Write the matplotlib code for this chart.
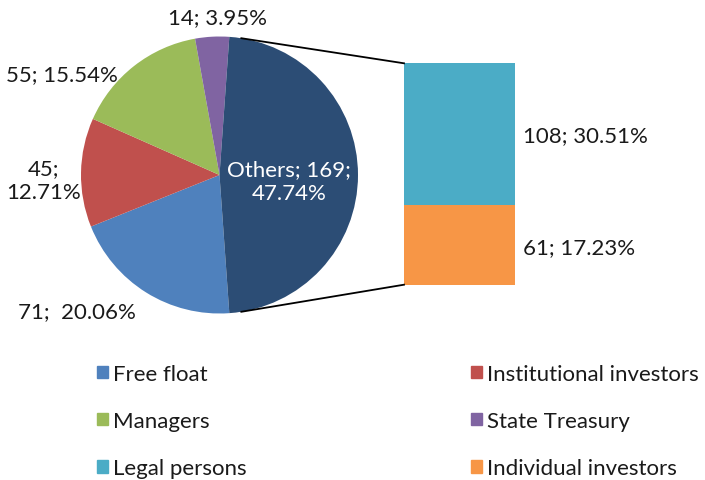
import matplotlib.pyplot as plt
from matplotlib.patches import Patch
import numpy as np

plt.rcParams['font.family'] = ['Lato', 'DejaVu Sans']

# pie data (Others is split out into the bar)
pie_labels = ['Free float', 'Institutional investors', 'Managers', 'State Treasury', 'Others']
pie_values = [71, 45, 55, 14, 169]
pie_pcts = ['20.06%', '12.71%', '15.54%', '3.95%', '47.74%']
pie_colors = ['#4F81BD', '#C0504D', '#9BBB59', '#8064A2', '#2C4D75']

# bar data (breakdown of Others)
bar_labels = ['Legal persons', 'Individual investors']
bar_values = [108, 61]
bar_pcts = ['30.51%', '17.23%']
bar_colors = ['#4BACC6', '#F79646']

W, H = 705, 481
fig = plt.figure(figsize=(W / 100, H / 100), dpi=100)
ax = fig.add_axes([0, 0, 1, 1])

cx, cy, r = 219.5, H - 176, 138.5
total = sum(pie_values)
start = -180 * pie_values[-1] / total
wedges, _ = ax.pie(pie_values, colors=pie_colors, center=(cx, cy), radius=r,
                   startangle=start, counterclock=False, frame=True)

# stacked bar of Others
bx, bw = 459.5, 111
btop, bbot = H - 64.3, H - 285.7
scale = (btop - bbot) / sum(bar_values)
bottom = bbot
for v, c in zip(bar_values[::-1], bar_colors[::-1]):
    ax.bar(bx, v * scale, width=bw, bottom=bottom, color=c, linewidth=0)
    bottom += v * scale

# connector lines
for ang, yb in [(-start - 5, btop), (start + 5, bbot)]:
    x0 = cx + r * np.cos(np.radians(ang))
    y0 = cy + r * np.sin(np.radians(ang))
    ax.plot([x0, bx - bw / 2], [y0, yb], color='black', lw=1.3)

fs = 16
tc = '#1a1a1a'
# pie labels
ax.text(77, H - 312, f'{pie_values[0]};  {pie_pcts[0]}', ha='center', va='center', fontsize=fs, color=tc)
ax.text(44, H - 181, f'{pie_values[1]};\n{pie_pcts[1]}', ha='center', va='center', fontsize=fs, color=tc,
        linespacing=1.2)
ax.text(62, H - 75, f'{pie_values[2]}; {pie_pcts[2]}', ha='center', va='center', fontsize=fs, color=tc)
ax.text(217, H - 18, f'{pie_values[3]}; {pie_pcts[3]}', ha='center', va='center', fontsize=fs, color=tc)
ax.text(289, H - 182, f'{pie_labels[4]}; {pie_values[4]};\n{pie_pcts[4]}', ha='center', va='center',
        fontsize=fs, color='white', linespacing=1.2)
# bar labels
ax.text(523, H - 136, f'{bar_values[0]}; {bar_pcts[0]}', ha='left', va='center', fontsize=fs, color=tc)
ax.text(523, H - 248, f'{bar_values[1]}; {bar_pcts[1]}', ha='left', va='center', fontsize=fs, color=tc)

ax.set_xlim(0, W)
ax.set_ylim(0, H)
ax.axis('off')

# legend in two columns
all_labels = pie_labels[:4] + bar_labels
all_colors = pie_colors[:4] + bar_colors
handles = [Patch(color=c, label=l) for l, c in zip(all_labels, all_colors)]
kw = dict(frameon=False, fontsize=fs, handlelength=0.48, handleheight=0.48,
          handletextpad=0.25, labelspacing=1.22, loc='upper left', borderpad=0, borderaxespad=0,
          labelcolor=tc)
leg1 = ax.legend(handles=handles[0::2], bbox_to_anchor=(97 / W, 1 - 365 / H), **kw)
ax.add_artist(leg1)
ax.legend(handles=handles[1::2], bbox_to_anchor=(471 / W, 1 - 365 / H), **kw)

fig.savefig('out.png', dpi=100)
